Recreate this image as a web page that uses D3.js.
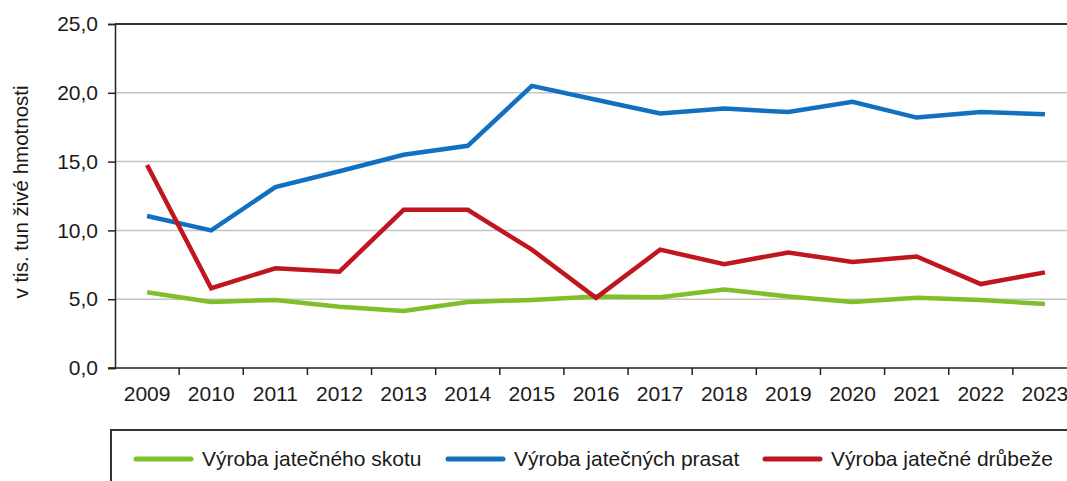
<!DOCTYPE html>
<html>
<head>
<meta charset="utf-8">
<script src="https://cdn.jsdelivr.net/npm/d3@7"></script>
<style>
    body { margin: 0; background: #fff; }
    #chart { width: 1067px; height: 481px; overflow: hidden; }
    text { font-family: Arial, "Liberation Sans", sans-serif; fill: #1a1a1a; }
    .axis path, .axis line { stroke: #222; stroke-width: 1.5px; }
    .axis text { font-size: 21px; }
</style>
</head>
<body>
<div id="chart"></div>
<script>

// Data

var years = ['2009', '2010', '2011', '2012', '2013', '2014', '2015', '2016',
    '2017', '2018', '2019', '2020', '2021', '2022', '2023'];

var skot = [5.5, 4.8, 4.95, 4.45, 4.15, 4.8, 4.95, 5.2, 5.15, 5.7, 5.2, 4.8, 5.1, 4.95, 4.65];
var prasat = [11.05, 10.0, 13.15, 14.3, 15.5, 16.15, 20.5, 19.5, 18.5, 18.85, 18.6, 19.35, 18.2, 18.6, 18.45];
var drubez = [14.75, 5.8, 7.25, 7.0, 11.5, 11.5, 8.6, 5.1, 8.6, 7.55, 8.4, 7.7, 8.1, 6.1, 6.95];

var seriesNames = ['Výroba jatečného skotu', 'Výroba jatečných prasat', 'Výroba jatečné drůbeže'];
var seriesColors = ['#7fbf2a', '#1170bf', '#c0161e'];

var yTicks = [0, 5, 10, 15, 20, 25];
var yTitle = 'v tis. tun živé hmotnosti';

// Set up

var width = 1067;
var height = 481;

var margin = {
    top: 24,
    bottom: 113,
    left: 115,
    right: -10
}

var svg = d3.select('#chart')
    .append('svg')
    .attr('width', width)
    .attr('height', height);

var plot_w = width - margin.left - margin.right;
var plot_h = height - margin.top - margin.bottom;

var g = svg.append('g')
    .attr('transform', 'translate(' + margin.left + ',' + margin.top + ')');

var x_scale = d3.scaleBand()
    .domain(years)
    .range([0, plot_w]);

var y_scale = d3.scaleLinear()
    .domain([0, 25])
    .range([plot_h, 0]);

// Gridlines
g.selectAll('.grid')
    .data(yTicks.filter(function(d) { return d > 0 && d < 25; }))
    .enter()
    .append('line')
    .attr('class', 'grid')
    .attr('x1', 0)
    .attr('x2', plot_w)
    .attr('y1', function(d) { return y_scale(d); })
    .attr('y2', function(d) { return y_scale(d); })
    .attr('stroke', '#c4c4c4')
    .attr('stroke-width', 1.5);

// top border of plot area
g.append('line')
    .attr('x1', 0)
    .attr('x2', plot_w)
    .attr('y1', 0)
    .attr('y2', 0)
    .attr('stroke', '#333')
    .attr('stroke-width', 2);

// Axes
var y_axis = d3.axisLeft(y_scale)
    .tickValues(yTicks)
    .tickSize(7)
    .tickPadding(10)
    .tickFormat(function(d) { return d3.format('.1f')(d).replace('.', ','); });

g.append('g')
    .attr('class', 'y axis')
    .call(y_axis);

// x ticks sit on band boundaries
var x_axis = d3.axisBottom(x_scale)
    .tickSize(0)
    .tickPadding(18);

var xg = g.append('g')
    .attr('class', 'x axis')
    .attr('transform', 'translate(0,' + plot_h + ')')
    .call(x_axis);

xg.select('.domain').attr('d', 'M-7,0H' + plot_w);

xg.selectAll('.band-tick')
    .data(years.slice(1))
    .enter()
    .append('line')
    .attr('class', 'band-tick')
    .attr('x1', function(d) { return x_scale(d); })
    .attr('x2', function(d) { return x_scale(d); })
    .attr('y1', 0)
    .attr('y2', 7);

// Y axis label
svg.append('text')
    .attr('transform', 'translate(28,' + 192 + ') rotate(-90)')
    .attr('text-anchor', 'middle')
    .attr('font-size', '20.5px')
    .text(yTitle);

// Lines
var allSeries = [skot, prasat, drubez];

var line = d3.line()
    .x(function(d, i) { return x_scale(years[i]) + x_scale.bandwidth() / 2; })
    .y(function(d) { return y_scale(d); });

g.selectAll('.series')
    .data(allSeries)
    .enter()
    .append('path')
    .attr('class', 'series')
    .attr('d', line)
    .attr('fill', 'none')
    .attr('stroke', function(d, i) { return seriesColors[i]; })
    .attr('stroke-width', 4.5)
    .attr('stroke-linejoin', 'miter');

// Legend
var legend = svg.append('g')
    .attr('class', 'legend');

legend.append('rect')
    .attr('x', 111)
    .attr('y', 430)
    .attr('width', 1000)
    .attr('height', 100)
    .attr('fill', 'none')
    .attr('stroke', '#333')
    .attr('stroke-width', 2);

var legendX = [136, 448, 765];

var item = legend.selectAll('.item')
    .data(seriesNames)
    .enter()
    .append('g')
    .attr('class', 'item')
    .attr('transform', function(d, i) { return 'translate(' + legendX[i] + ',459)'; });

item.append('line')
    .attr('x1', 0)
    .attr('x2', 55)
    .attr('stroke', function(d, i) { return seriesColors[i]; })
    .attr('stroke-width', 5)
    .attr('stroke-linecap', 'round');

item.append('text')
    .attr('x', 66)
    .attr('y', 7)
    .attr('font-size', '21px')
    .text(function(d) { return d; });

</script>
</body>
</html>
